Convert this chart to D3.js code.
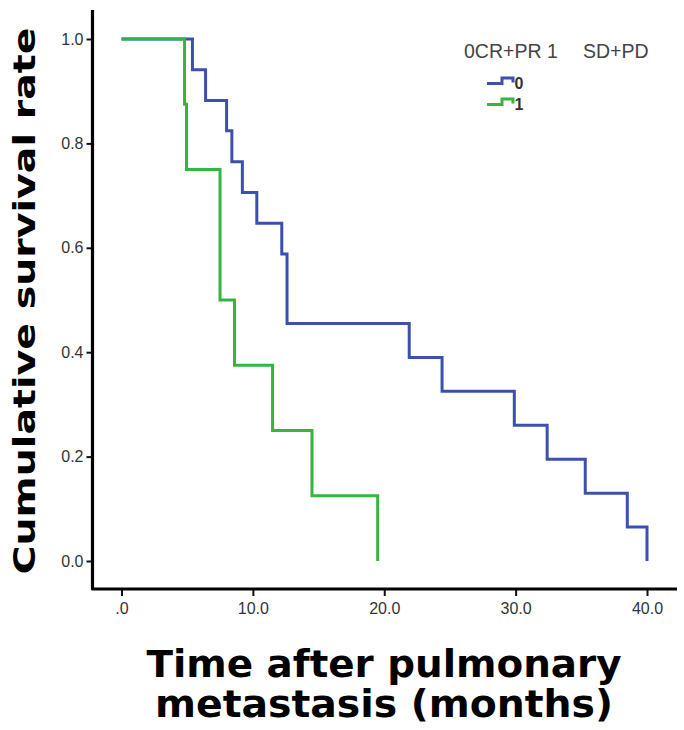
<!DOCTYPE html>
<html>
<head>
<meta charset="utf-8">
<script src="https://cdn.jsdelivr.net/npm/d3@7/dist/d3.min.js"></script>
<style>
  html, body { margin: 0; padding: 0; background: #fff; }
  svg { display: block; }
</style>
</head>
<body>
<svg id="chart" width="684" height="730"></svg>
<script>
// ---- data ----
const groupLabels = ["0", "1"];
const legendTitleA = "0CR+PR 1";
const legendTitleB = "SD+PD";
const blueTimes = [0, 5.4, 6.4, 8.0, 8.4, 9.2, 10.3, 12.2, 12.6, 21.9, 24.4, 29.9, 32.4, 35.3, 38.5, 40.0];
const blueSurv  = [1.0, 0.941, 0.882, 0.824, 0.765, 0.706, 0.647, 0.588, 0.455, 0.390, 0.325, 0.260, 0.195, 0.130, 0.065, 0.0];
const greenTimes = [0, 4.8, 4.95, 7.5, 8.6, 11.5, 14.5, 19.5];
const greenSurv  = [1.0, 0.875, 0.75, 0.5, 0.375, 0.25, 0.125, 0.0];
const xTicks = [0, 10, 20, 30, 40];
const xTickLabels = [".0", "10.0", "20.0", "30.0", "40.0"];
const yTicks = [0, 0.2, 0.4, 0.6, 0.8, 1.0];
const yTickLabels = ["0.0", "0.2", "0.4", "0.6", "0.8", "1.0"];
const xTitle = ["Time after pulmonary", "metastasis (months)"];
const yTitle = "Cumulative survival rate";

const BLUE = "#3b51ad";
const GREEN = "#33b53f";

const svg = d3.select("#chart");
const x = d3.scaleLinear().domain([0, 40]).range([121.5, 647]);
const y = d3.scaleLinear().domain([0, 1]).range([561, 39]);

const axisX = 92.5, axisY = 589;
const FONT = "Liberation Sans, Arial, sans-serif";

// y axis
const yAxis = d3.axisLeft(y).tickValues(yTicks)
  .tickFormat((d, i) => yTickLabels[i]).tickSize(6).tickPadding(3);
const gy = svg.append("g").attr("transform", `translate(${axisX},0)`).call(yAxis);
gy.select(".domain").remove();
gy.selectAll(".tick line").attr("stroke", "#111").attr("stroke-width", 2);
gy.selectAll(".tick text").attr("font-family", FONT)
  .attr("font-size", 16).attr("fill", "#333");

// x axis
const xAxis = d3.axisBottom(x).tickValues(xTicks)
  .tickFormat((d, i) => xTickLabels[i]).tickSize(7).tickPadding(7);
const gx = svg.append("g").attr("transform", `translate(0,${axisY})`).call(xAxis);
gx.select(".domain").remove();
gx.selectAll(".tick line").attr("stroke", "#111").attr("stroke-width", 2);
gx.selectAll(".tick text").attr("font-family", FONT)
  .attr("font-size", 16).attr("fill", "#333");

// spines
svg.append("path")
  .attr("d", `M${axisX},10 L${axisX},${axisY} L677,${axisY}`)
  .attr("fill", "none").attr("stroke", "#000").attr("stroke-width", 3.2)
  .attr("stroke-linejoin", "round");

// curves
const step = d3.line().x(d => x(d[0])).y(d => y(d[1])).curve(d3.curveStepAfter);
const blueData = blueTimes.map((t, i) => [t, blueSurv[i]]);
const greenData = greenTimes.map((t, i) => [t, greenSurv[i]]);
svg.append("path").attr("d", step(blueData)).attr("fill", "none")
  .attr("stroke", BLUE).attr("stroke-width", 3);
svg.append("path").attr("d", step(greenData)).attr("fill", "none")
  .attr("stroke", GREEN).attr("stroke-width", 3);

// legend
const lg = svg.append("g");
lg.append("text").attr("x", 464).attr("y", 58)
  .attr("font-family", FONT).attr("font-size", 19.5)
  .attr("fill", "#444").text(legendTitleA);
lg.append("text").attr("x", 583).attr("y", 58)
  .attr("font-family", FONT).attr("font-size", 19.5)
  .attr("fill", "#444").text(legendTitleB);

const icon = d3.line();
[[BLUE, 83.5, groupLabels[0]], [GREEN, 104.5, groupLabels[1]]].forEach(([c, yy, lab]) => {
  lg.append("path")
    .attr("d", icon([[487, yy], [502, yy], [502, yy - 5.5], [513, yy - 5.5], [513, yy - 1]]))
    .attr("fill", "none").attr("stroke", c).attr("stroke-width", 3);
  lg.append("text").attr("x", 514.5).attr("y", yy + 5.5)
    .attr("font-family", FONT).attr("font-size", 16)
    .attr("font-weight", "bold").attr("fill", "#333").text(lab);
});

// titles
svg.append("text")
  .attr("transform", "rotate(-90)")
  .attr("x", -301).attr("y", 35)
  .attr("text-anchor", "middle")
  .attr("font-family", "DejaVu Sans, Verdana, sans-serif")
  .attr("font-weight", "bold").attr("font-size", 30)
  .attr("textLength", 547).attr("lengthAdjust", "spacingAndGlyphs")
  .attr("fill", "#000").text(yTitle);

[677, 717].forEach((by, i) => {
  svg.append("text")
    .attr("x", 384).attr("y", by)
    .attr("text-anchor", "middle")
    .attr("font-family", "DejaVu Sans, Verdana, sans-serif")
    .attr("font-weight", "bold").attr("font-size", 37)
    .attr("textLength", i === 0 ? 475 : 458).attr("lengthAdjust", "spacingAndGlyphs")
    .attr("fill", "#000").text(xTitle[i]);
});
</script>
</body>
</html>
